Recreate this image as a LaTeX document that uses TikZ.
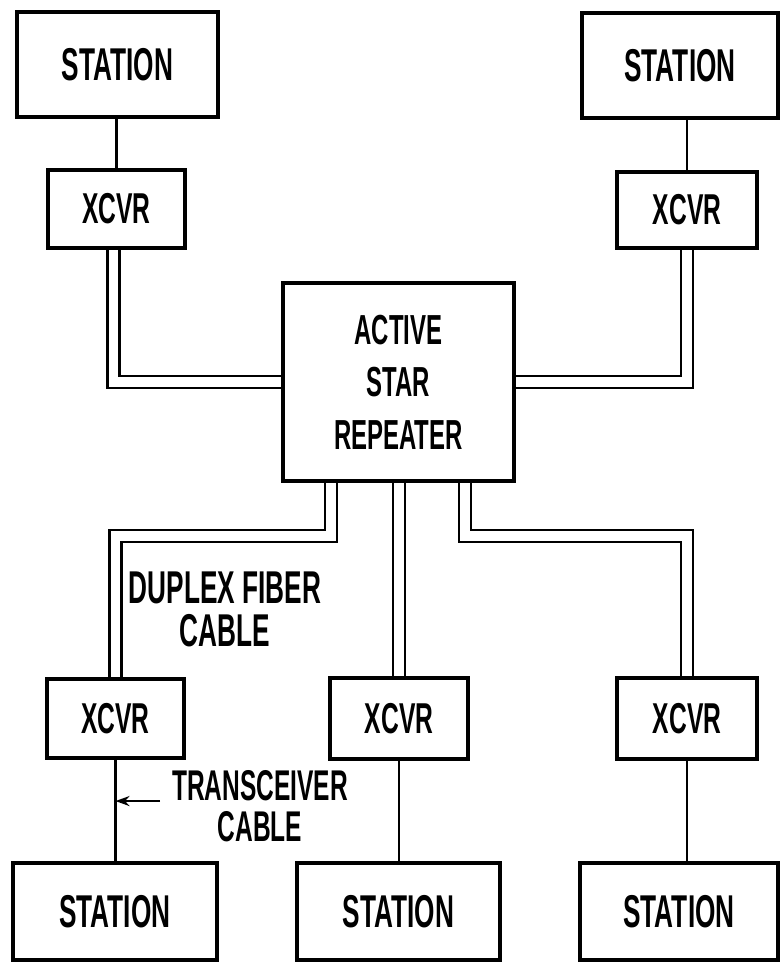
\documentclass[tikz,border=0pt]{standalone}
\usepackage{fontspec}
\setmainfont{Liberation Sans}[FakeStretch=0.57]
\usetikzlibrary{backgrounds,calc,arrows.meta}
\begin{document}
\begin{tikzpicture}[x=0.5pt,y=-0.5pt]
\tikzset{
  box/.style={draw,line width=1.7pt,inner sep=0pt,outer sep=0pt,align=center},
  stationbox/.style={box,font=\bfseries\fontsize{23}{26}\selectfont},
  xcvrbox/.style={box,font=\bfseries\fontsize{21.6}{24}\selectfont},
  repbox/.style={box,font=\bfseries\fontsize{21}{26.25}\selectfont},
  cable/.style={line width=1.2pt},
  fiber/.style={line width=1.4pt,double,double distance=4.6pt},
  lbl/.style={inner sep=0pt,outer sep=0pt,align=center}
}
\useasboundingbox (0,0) rectangle (781,963);

% boxes
\node[stationbox,minimum width=100.5pt,minimum height=52.5pt] (stl) at (117.5,64.5) {STATION};
\node[stationbox,minimum width=98pt,minimum height=52.5pt] (str) at (680,65.5) {STATION};
\node[xcvrbox,minimum width=68.5pt,minimum height=39pt] (xtl) at (116.5,209) {XCVR};
\node[xcvrbox,minimum width=70pt,minimum height=38pt] (xtr) at (687,210) {XCVR};
\node[repbox,minimum width=115.5pt,minimum height=99pt] (rep) at (398.5,382) {ACTIVE\\STAR\\REPEATER};
\node[xcvrbox,minimum width=68.5pt,minimum height=39.5pt] (xbl) at (115.5,718.5) {XCVR};
\node[xcvrbox,minimum width=69pt,minimum height=40.5pt] (xbm) at (399,718.5) {XCVR};
\node[xcvrbox,minimum width=70pt,minimum height=40.5pt] (xbr) at (687,718.5) {XCVR};
\node[stationbox,minimum width=102pt,minimum height=48.5pt] (sbl) at (115,911.5) {STATION};
\node[stationbox,minimum width=101.5pt,minimum height=48.5pt] (sbm) at (398.5,911.5) {STATION};
\node[stationbox,minimum width=99pt,minimum height=48.5pt] (sbr) at (679,911.5) {STATION};

% labels
\node[lbl,font=\bfseries\fontsize{23}{21.5}\selectfont] (duplex) at (225,609.5) {DUPLEX FIBER\\CABLE};
\node[lbl,font=\bfseries\fontsize{21.5}{20.5}\selectfont] (trans) at (260,806.5) {TRANSCEIVER\\CABLE};

\coordinate (tc) at ($(xbl.south)!0.41!(xbl.south |- sbl.north)$);

\begin{pgfonlayer}{background}
  \fill[white] (0,0) rectangle (781,963);
  % transceiver cables
  \draw[cable] (xtl.north) -- (xtl.north |- stl.south);
  \draw[cable] (xtr.north) -- (xtr.north |- str.south);
  \draw[cable] (xbl.south) -- (xbl.south |- sbl.north);
  \draw[cable] (xbm.south) -- (xbm.south |- sbm.north);
  \draw[cable] (xbr.south) -- (xbr.south |- sbr.north);
  % duplex fiber cables
  \draw[fiber] ([xshift=-1.5pt]xtl.south) |- (rep.west);
  \draw[fiber] (xtr.south) |- (rep.east);
  \draw[fiber] ([xshift=-33.75pt]rep.south) -- ++(0,55) -| (xbl.north);
  \draw[fiber] (xbm.north |- rep.south) -- (xbm.north);
  \draw[fiber] ([xshift=33.25pt]rep.south) -- ++(0,55) -| (xbr.north);
\end{pgfonlayer}

% arrow
\draw[line width=1.3pt,-{Stealth[length=7pt,width=5pt]}] ([xshift=-6pt]trans.west |- tc) -- (tc);
\end{tikzpicture}
\end{document}
